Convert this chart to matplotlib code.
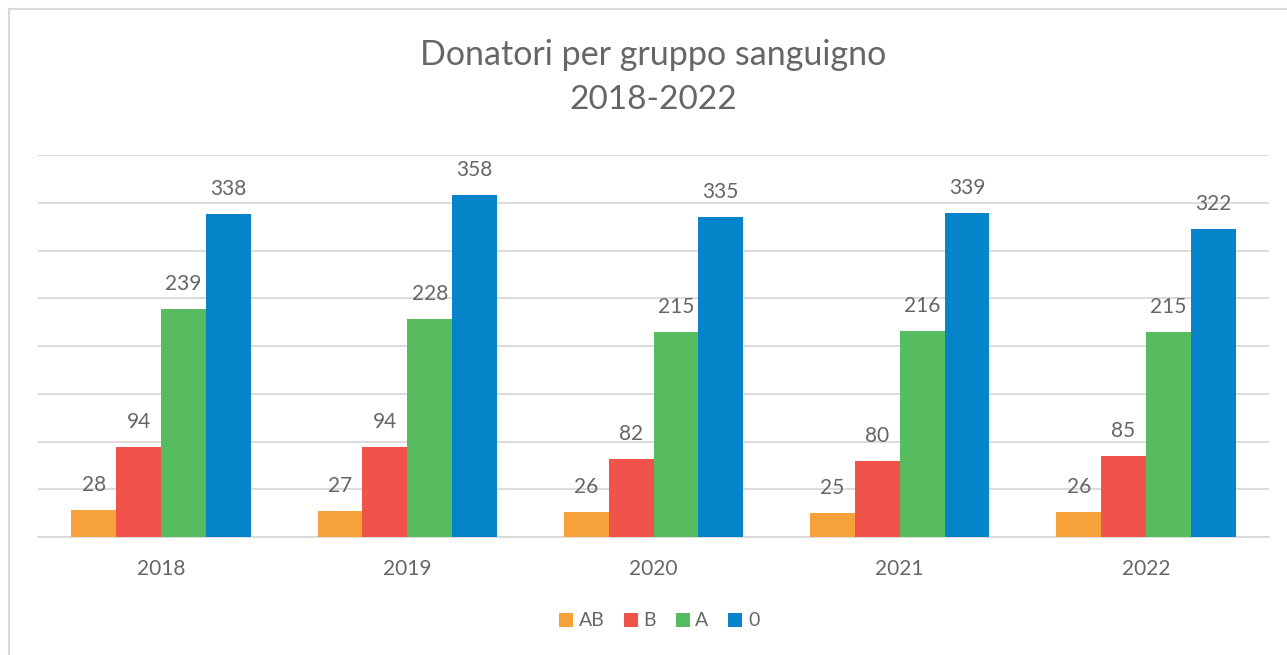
import matplotlib.pyplot as plt
import numpy as np
from matplotlib.patches import Rectangle

years = ["2018", "2019", "2020", "2021", "2022"]
groups = ["AB", "B", "A", "0"]
ab = [28, 27, 26, 25, 26]
b = [94, 94, 82, 80, 85]
a = [239, 228, 215, 216, 215]
zero = [338, 358, 335, 339, 322]

colors = ["#F7A13A", "#EF534A", "#57BB5F", "#0584C9"]
text_col = "#666666"
grid_col = "#D9D9D9"

plt.rcParams["font.family"] = ["Lato", "DejaVu Sans"]

W, H = 1287, 655
fig = plt.figure(figsize=(W / 100, H / 100), dpi=100)
ax = fig.add_axes([38 / W, 1 - 537 / H, 1231 / W, 382 / H])

x = np.arange(len(years))
bw = 0.182
series = [ab, b, a, zero]
for i, (name, vals) in enumerate(zip(groups, series)):
    pos = x + (i - 1.5) * bw
    ax.bar(pos, vals, width=bw, color=colors[i], label=name, zorder=3)
    for xp, v in zip(pos, vals):
        ax.annotate(str(v), (xp, v), xytext=(0, 25), textcoords="offset pixels",
                    ha="center", va="center", fontsize=15, color=text_col)

ax.set_xlim(-0.5, len(years) - 0.5)
ax.set_ylim(0, 400)
ax.set_yticks(np.arange(0, 401, 50))
ax.yaxis.grid(True, color=grid_col, linewidth=1.3, zorder=0)
ax.tick_params(axis="y", left=False, labelleft=False)
ax.set_xticks(x)
ax.set_xticklabels(years, fontsize=15, color=text_col)
ax.tick_params(axis="x", length=0, pad=16)
for s in ["top", "right", "left"]:
    ax.spines[s].set_visible(False)
ax.spines["bottom"].set_color(grid_col)
ax.spines["bottom"].set_linewidth(1.3)

fig.text(653 / W, 1 - 55 / H, "Donatori per gruppo sanguigno", ha="center", va="center",
         fontsize=24.5, color=text_col)
fig.text(653 / W, 1 - 100 / H, "2018-2022", ha="center", va="center",
         fontsize=24, color=text_col)

leg = fig.legend(loc="center", bbox_to_anchor=(659 / W, 1 - 621 / H), ncol=4, frameon=False,
                 fontsize=14, handlelength=0.72, handleheight=0.72, handletextpad=0.3,
                 columnspacing=1.0)
for t in leg.get_texts():
    t.set_color(text_col)

fig.patches.append(Rectangle((8.5 / W, -0.1), 1.2, 1.1 - 9.5 / H,
                             transform=fig.transFigure, fill=False,
                             edgecolor=grid_col, linewidth=1.5))

fig.savefig("out.png", dpi=100)
